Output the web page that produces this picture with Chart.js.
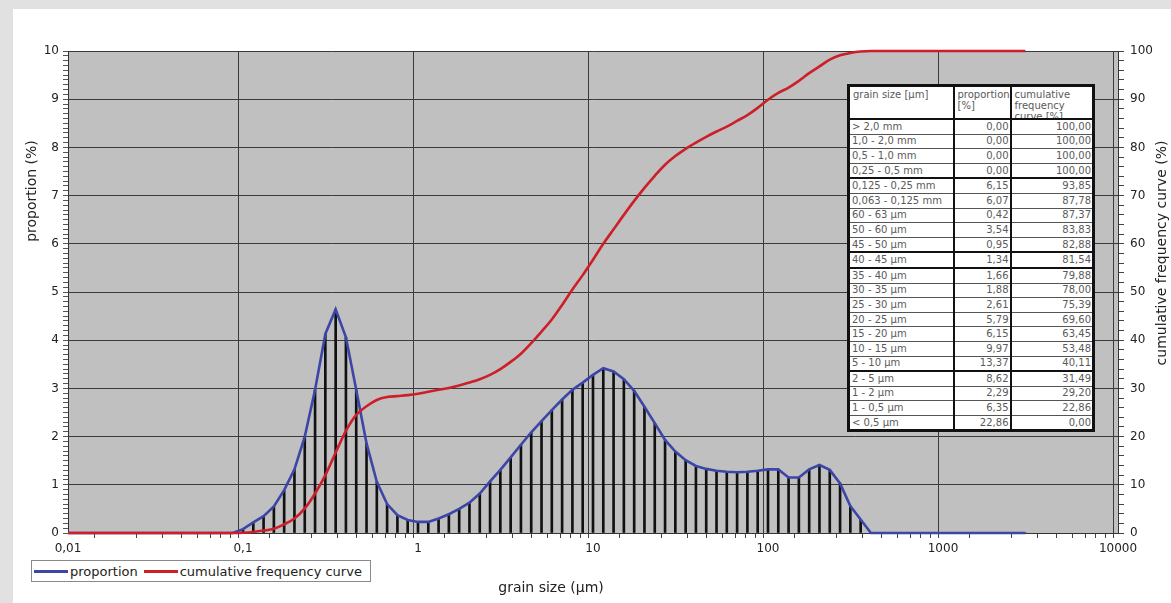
<!DOCTYPE html>
<html>
<head>
<meta charset="utf-8">
<script src="https://cdn.jsdelivr.net/npm/chart.js@4/dist/chart.umd.min.js"></script>
<style>
  body { margin: 0; width: 1171px; height: 603px; background: #e1e1e1; overflow: hidden; position: relative; font-family: "DejaVu Sans", sans-serif; }
  #frame { position: absolute; left: 13px; top: 9px; right: 0; bottom: 0; background: #fff; }
  #chart { position: absolute; left: 0; top: 0; }
  #legend { position: absolute; left: 31px; top: 560px; width: 338px; height: 20px; border: 1px solid #8a8a8a; background: #fff;
            display: flex; align-items: center; font-size: 13px; color: #222; white-space: nowrap; }
  #legend .item { display: flex; align-items: center; margin-left: 2px; margin-right: 4px; }
  #legend .swatch { display: inline-block; width: 34px; height: 3px; margin-right: 2px; }
  #grainTable { position: absolute; left: 847px; top: 84px; width: 245px; border-collapse: collapse; table-layout: fixed;
                border: 3px solid #111; background: #fff; font-size: 10px; color: #5a5a5a; }
  #grainTable th, #grainTable td { border-left: 2px solid #111; border-right: 2px solid #111; border-top: 1px solid #555;
                padding: 0 1px 0 2px; height: 13.6px; line-height: 12px; white-space: nowrap; overflow: hidden; font-weight: normal; }
  #grainTable th { text-align: left; vertical-align: top; padding: 0; height: auto; border-bottom: 2px solid #111; }
  #grainTable th div { height: 29px; overflow: hidden; line-height: 11px; padding: 2px 2px 0 3px; white-space: normal; }
  #grainTable td.num { text-align: right; }
  #grainTable tr.thick td { border-top: 2px solid #111; }
</style>
</head>
<body>
<div id="frame"></div>
<canvas id="chart" width="1171" height="603"></canvas>
<div id="legend"></div>
<table id="grainTable"></table>

<script>
// Grain size distribution - proportion per bin and cumulative frequency curve

// grain size of each measuring bin (µm)
const grainSizes = [
  0.01,
  0.08732,
  0.1, 0.1145, 0.1311, 0.1501, 0.1719, 0.1968, 0.2254, 0.2581, 0.2955, 0.3384, 0.3874, 0.4436, 0.508, 0.5816, 0.666, 0.7626, 0.8732,
  1, 1.145, 1.311, 1.501, 1.719, 1.968, 2.254, 2.581, 2.955, 3.384, 3.874, 4.436, 5.08, 5.816, 6.66, 7.626, 8.732,
  10, 11.45, 13.11, 15.01, 17.19, 19.68, 22.54, 25.81, 29.55, 33.84, 38.74, 44.36, 50.8, 58.16, 66.6, 76.26, 87.32,
  100, 114.5, 131.1, 150.1, 171.9, 196.8, 225.4, 258.1, 295.5, 338.4, 387.4, 443.6, 508, 581.6, 666, 762.6, 873.2,
  1000, 1145, 1311, 1501, 1719, 1968, 2254, 2581, 2955
];

// proportion (%) - left axis
const proportion = [
  0,
  0,
  0.08, 0.22, 0.35, 0.55, 0.89, 1.32, 2.0, 2.97, 4.13, 4.64, 4.06, 2.97, 1.86, 1.06, 0.60, 0.37, 0.27,
  0.23, 0.23, 0.30, 0.39, 0.50, 0.63, 0.82, 1.07, 1.31, 1.57, 1.83, 2.09, 2.32, 2.55, 2.77, 2.97, 3.12,
  3.28, 3.42, 3.35, 3.19, 2.95, 2.62, 2.28, 1.93, 1.69, 1.51, 1.39, 1.33, 1.29, 1.27, 1.26, 1.27, 1.29,
  1.32, 1.32, 1.15, 1.15, 1.32, 1.41, 1.31, 1.03, 0.56, 0.28, 0, 0, 0, 0, 0, 0, 0,
  0, 0, 0, 0, 0, 0, 0, 0, 0
];

// cumulative frequency curve (%) - right axis
const cumulative = [
  0,
  0,
  0.05, 0.2, 0.5, 0.9, 1.8, 3.0, 5.1, 8.2, 12.0, 16.7, 21.2, 24.5, 26.3, 27.6, 28.2, 28.4, 28.6,
  28.9, 29.3, 29.7, 30.1, 30.6, 31.2, 31.9, 32.8, 34.0, 35.5, 37.2, 39.4, 41.8, 44.3, 47.3, 50.5, 53.5,
  56.7, 60.0, 63.0, 66.0, 68.9, 71.6, 74.1, 76.4, 78.2, 79.7, 81.0, 82.2, 83.3, 84.3, 85.5, 86.7, 88.2,
  89.9, 91.3, 92.4, 93.8, 95.4, 96.8, 98.2, 99.1, 99.6, 99.9, 100, 100, 100, 100, 100, 100, 100,
  100, 100, 100, 100, 100, 100, 100, 100, 100
];

// x axis decades and their labels
const xDecades = [0.01, 0.1, 1, 10, 100, 1000, 10000];
const xDecadeLabels = ['0,01', '0,1', '1', '10', '100', '1000', '10000'];

// summary table
const tableRanges = [
  '> 2,0 mm', '1,0 - 2,0 mm', '0,5 - 1,0 mm', '0,25 - 0,5 mm', '0,125 - 0,25 mm', '0,063 - 0,125 mm',
  '60 - 63 µm', '50 - 60 µm', '45 - 50 µm', '40 - 45 µm', '35 - 40 µm', '30 - 35 µm', '25 - 30 µm',
  '20 - 25 µm', '15 - 20 µm', '10 - 15 µm', '5 - 10 µm', '2 - 5 µm', '1 - 2 µm', '1 - 0,5 µm', '< 0,5 µm'
];
const tableProportion = [
  '0,00', '0,00', '0,00', '0,00', '6,15', '6,07', '0,42', '3,54', '0,95', '1,34', '1,66', '1,88', '2,61',
  '5,79', '6,15', '9,97', '13,37', '8,62', '2,29', '6,35', '22,86'
];
const tableCumulative = [
  '100,00', '100,00', '100,00', '100,00', '93,85', '87,78', '87,37', '83,83', '82,88', '81,54', '79,88',
  '78,00', '75,39', '69,60', '63,45', '53,48', '40,11', '31,49', '29,20', '22,86', '0,00'
];
const tableThickRows = [4, 9, 10, 17];

const FONT = '"DejaVu Sans", sans-serif';
const BLUE = '#3c46a6';
const RED = '#cc1f2a';

function xyPoints(values) {
  return grainSizes.map((x, i) => ({ x: x, y: values[i] }));
}

// Build the table
function buildTable() {
  const table = document.getElementById('grainTable');
  let html = '<colgroup><col style="width:105px"><col style="width:57px"><col style="width:83px"></colgroup>';
  html += '<tr><th><div>grain size [µm]</div></th><th><div>proportion [%]</div></th><th><div>cumulative frequency curve [%]</div></th></tr>';
  tableRanges.forEach((r, i) => {
    const cls = tableThickRows.includes(i) ? ' class="thick"' : '';
    html += `<tr${cls}><td>${r.replace('<', '&lt;').replace('>', '&gt;')}</td><td class="num">${tableProportion[i]}</td><td class="num">${tableCumulative[i]}</td></tr>`;
  });
  table.innerHTML = html;
}

// Background of plot area and axis titles
const decorPlugin = {
  id: 'decor',
  beforeDraw(chart) {
    const { ctx, chartArea: a } = chart;
    ctx.save();
    ctx.fillStyle = '#c0c0c0';
    ctx.fillRect(a.left, a.top, a.right - a.left, a.bottom - a.top);
    ctx.restore();
  },
  afterDraw(chart) {
    const { ctx, chartArea: a } = chart;
    ctx.save();
    ctx.fillStyle = '#222';
    ctx.font = '14px ' + FONT;
    ctx.textAlign = 'center';
    ctx.textBaseline = 'middle';
    ctx.fillText('grain size (µm)', a.left + 483, a.bottom + 55);

    ctx.translate(a.left - 36, a.top + 140);
    ctx.rotate(-Math.PI / 2);
    ctx.fillText('proportion (%)', 0, 0);
    ctx.restore();

    ctx.save();
    ctx.fillStyle = '#222';
    ctx.font = '14px ' + FONT;
    ctx.textAlign = 'center';
    ctx.textBaseline = 'middle';
    ctx.translate(a.right + 44, a.top + 202);
    ctx.rotate(-Math.PI / 2);
    ctx.fillText('cumulative frequency curve (%)', 0, 0);
    ctx.restore();
  }
};

function isDecade(v) {
  return xDecades.some(d => Math.abs(v - d) / d < 1e-6);
}

function isWhole(v, step) {
  return Math.abs(v / step - Math.round(v / step)) < 1e-6;
}

function drawChart() {
  const ctx = document.getElementById('chart');

  const chart = new Chart(ctx, {
    data: {
      datasets: [
        {
          type: 'line',
          label: 'cumulative frequency curve',
          data: xyPoints(cumulative),
          yAxisID: 'y1',
          borderColor: RED,
          borderWidth: 2.6,
          pointRadius: 0,
          cubicInterpolationMode: 'monotone',
          clip: false,
          order: 1
        },
        {
          type: 'line',
          label: 'proportion',
          data: xyPoints(proportion),
          yAxisID: 'y',
          borderColor: BLUE,
          borderWidth: 2.6,
          pointRadius: 0,
          tension: 0,
          clip: false,
          order: 2
        },
        {
          type: 'bar',
          label: 'bins',
          data: xyPoints(proportion),
          yAxisID: 'y',
          backgroundColor: '#111',
          barThickness: 2,
          order: 3
        }
      ]
    },
    options: {
      responsive: false,
      animation: false,
      devicePixelRatio: 1,
      layout: { padding: { left: 0, top: 51, right: 0, bottom: 0 } },
      plugins: {
        legend: { display: false },
        tooltip: { enabled: false }
      },
      scales: {
        x: {
          type: 'logarithmic',
          min: 0.01,
          max: 10000,
          afterBuildTicks: scale => {
            const ticks = [];
            for (let d = 0; d < xDecades.length - 1; d++) {
              for (let m = 1; m < 10; m++) ticks.push({ value: m * xDecades[d] });
            }
            ticks.push({ value: xDecades[xDecades.length - 1] });
            scale.ticks = ticks;
          },
          afterFit: scale => { scale.height = 70; },
          border: { color: '#333', width: 1 },
          grid: {
            color: c => (c.tick && isDecade(c.tick.value) ? '#3a3a3a' : 'rgba(0,0,0,0)'),
            tickColor: '#444',
            tickLength: 5
          },
          ticks: {
            autoSkip: false,
            maxRotation: 0,
            padding: 4,
            color: '#222',
            font: { family: FONT, size: 12 },
            callback: function (value) {
              const idx = xDecades.findIndex(d => Math.abs(value - d) / d < 1e-6);
              return idx >= 0 ? xDecadeLabels[idx] : '';
            }
          }
        },
        y: {
          position: 'left',
          min: 0,
          max: 10,
          afterBuildTicks: scale => {
            const ticks = [];
            for (let i = 0; i <= 100; i++) ticks.push({ value: i / 10 });
            scale.ticks = ticks;
          },
          afterFit: scale => { scale.width = 68; },
          border: { color: '#333', width: 1 },
          grid: {
            color: c => (c.tick && isWhole(c.tick.value, 1) ? '#3a3a3a' : 'rgba(0,0,0,0)'),
            tickColor: '#555',
            tickLength: 5
          },
          ticks: {
            autoSkip: false,
            padding: 4,
            color: '#222',
            font: { family: FONT, size: 12 },
            callback: v => (isWhole(v, 1) ? String(Math.round(v)) : '')
          }
        },
        y1: {
          position: 'right',
          min: 0,
          max: 100,
          afterBuildTicks: scale => {
            const ticks = [];
            for (let i = 0; i <= 50; i++) ticks.push({ value: i * 2 });
            scale.ticks = ticks;
          },
          afterFit: scale => { scale.width = 53; },
          border: { color: '#333', width: 1 },
          grid: {
            drawOnChartArea: false,
            color: '#444',
            tickColor: '#444',
            tickLength: 6
          },
          ticks: {
            autoSkip: false,
            padding: 6,
            color: '#222',
            font: { family: FONT, size: 12 },
            callback: v => (isWhole(v, 10) ? String(Math.round(v)) : '')
          }
        }
      }
    },
    plugins: [decorPlugin]
  });

  // Legend from the line datasets
  const legendEl = document.getElementById('legend');
  const lines = chart.data.datasets.filter(ds => ds.type === 'line').reverse();
  legendEl.innerHTML = lines.map(ds => `
    <span class="item"><span class="swatch" style="background:${ds.borderColor}"></span>${ds.label}</span>
  `).join('');
}

buildTable();
drawChart();
</script>
</body>
</html>
